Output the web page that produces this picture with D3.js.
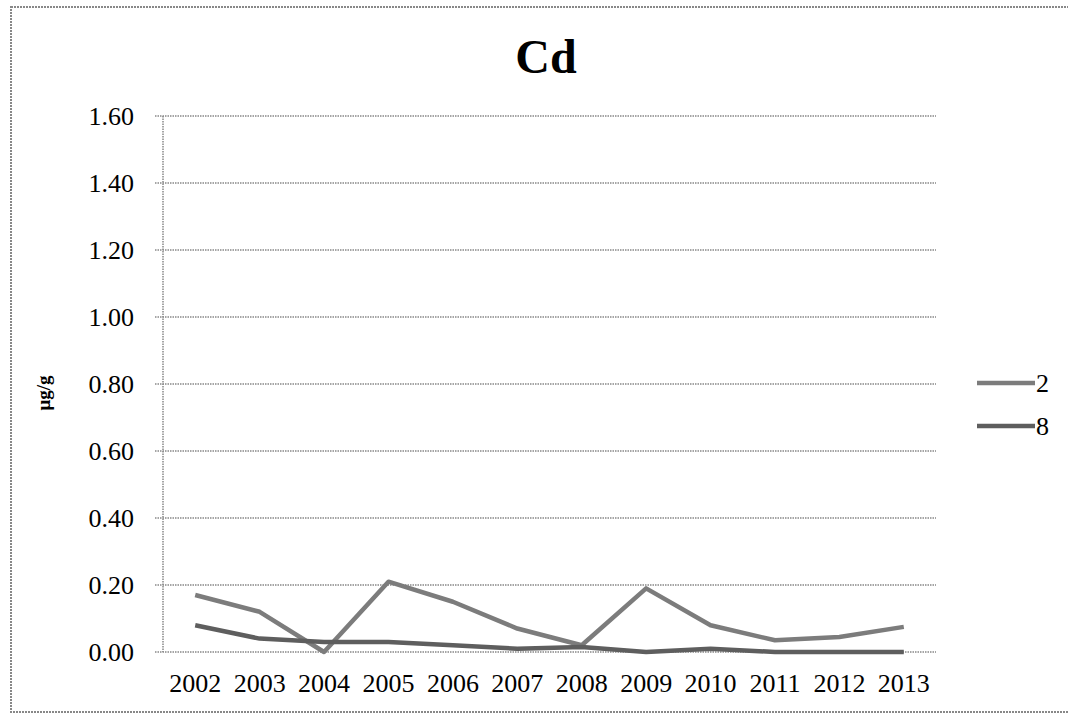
<!DOCTYPE html>
<html><head><meta charset="utf-8">
<script src="https://cdn.jsdelivr.net/npm/d3@7"></script>
<style>body{margin:0;background:#fff}svg{display:block}
text{font-family:"Liberation Serif","DejaVu Serif","Times New Roman",serif;}
</style>
</head><body>
<svg id="c" width="1068" height="719"></svg>
<script>
const years = ["2002","2003","2004","2005","2006","2007","2008","2009","2010","2011","2012","2013"];
const series2 = [0.17,0.12,0.00,0.21,0.15,0.07,0.02,0.19,0.08,0.035,0.045,0.075];
const series8 = [0.08,0.04,0.03,0.03,0.02,0.01,0.015,0.00,0.01,0.00,0.00,0.00];
const seriesNames = ["2","8"];
const yTicks = [0,0.2,0.4,0.6,0.8,1.0,1.2,1.4,1.6];

const svg = d3.select("#c");
const L=163, R=936, T=116, B=652;

svg.append("rect").attr("x",11).attr("y",7).attr("width",1100).attr("height",705)
  .attr("fill","none").attr("stroke","#888").attr("stroke-width",2).attr("stroke-dasharray","2,1");

const x = d3.scaleBand().domain(years).range([L,R]);
const y = d3.scaleLinear().domain([0,1.6]).range([B,T]);

svg.append("g").selectAll("line").data(yTicks).join("line")
  .attr("x1",L-8).attr("x2",R).attr("y1",d=>y(d)).attr("y2",d=>y(d))
  .attr("stroke","#888").attr("stroke-width",1.3).attr("stroke-dasharray","1.5,1");
svg.append("line").attr("x1",L).attr("x2",L).attr("y1",T).attr("y2",B)
  .attr("stroke","#888").attr("stroke-width",1.5).attr("stroke-dasharray","1.5,1");

svg.append("g").selectAll("text").data(yTicks).join("text")
  .attr("x",134).attr("y",d=>y(d)).attr("dy","0.35em").attr("text-anchor","end")
  .attr("font-size",26).attr("fill","#000")
  .text(d=>d.toFixed(2));
svg.append("g").selectAll("text").data(years).join("text")
  .attr("x",d=>x(d)+x.bandwidth()/2).attr("y",692).attr("text-anchor","middle")
  .attr("font-size",26).attr("fill","#000")
  .text(d=>d);

svg.append("text").attr("x",546).attr("y",73).attr("text-anchor","middle")
  .attr("font-weight","bold").attr("font-size",48).attr("fill","#000").text("Cd");
svg.append("text").attr("transform","translate(50,393) rotate(-90)").attr("text-anchor","middle")
  .attr("font-weight","bold").attr("font-size",19).attr("fill","#000").text("μg/g");

const line = d3.line().x((d,i)=>x(years[i])+x.bandwidth()/2).y(d=>y(d));
const colors = ["#7c7c7c","#5e5e5e"];
[series2,series8].forEach((s,i)=>{
  svg.append("path").datum(s).attr("d",line).attr("fill","none")
    .attr("stroke",colors[i]).attr("stroke-width",4.5).attr("stroke-linejoin","round");
});

const ly=[383,426];
seriesNames.forEach((n,i)=>{
  svg.append("line").attr("x1",977).attr("x2",1035).attr("y1",ly[i]).attr("y2",ly[i])
    .attr("stroke",colors[i]).attr("stroke-width",4.5);
  svg.append("text").attr("x",1036).attr("y",ly[i]).attr("dy","0.35em")
    .attr("font-size",26).attr("fill","#000").text(n);
});
</script>
</body></html>
